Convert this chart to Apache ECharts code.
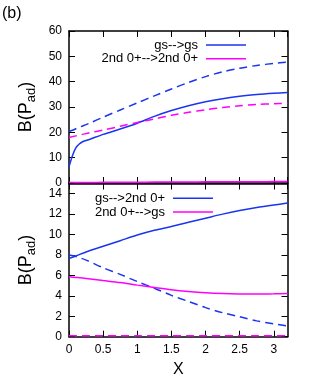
<!DOCTYPE html>
<html><head><meta charset="utf-8">
<script src="https://cdn.jsdelivr.net/npm/echarts@6/dist/echarts.min.js"></script>
<style>html,body{margin:0;padding:0;background:#fff}#c{width:313px;height:382px}</style>
</head><body><div id="c"></div>
<script>
// top panel data
var xTop = [0, 0.05, 0.1, 0.15, 0.2, 0.3, 0.5, 0.75, 1.0, 1.25, 1.5, 1.75, 2.0, 2.25, 2.5, 2.75, 3.0, 3.2];
var gsgsSolid = [6.4, 10.8, 13.9, 15.4, 16.3, 17.2, 19.2, 21.3, 23.6, 26.3, 28.6, 30.5, 32.1, 33.3, 34.2, 34.9, 35.4, 35.7];
var gsgsDashed = [20.3, 20.8, 21.4, 22.0, 22.5, 23.6, 26.0, 28.8, 31.6, 34.4, 37.1, 39.7, 42.0, 43.9, 45.3, 46.4, 47.2, 47.7];
var s2s2Dashed = [18.0, 18.3, 18.6, 18.9, 19.2, 19.8, 20.9, 22.4, 23.9, 25.3, 26.7, 27.9, 28.9, 29.8, 30.5, 31.0, 31.3, 31.5];
var s2s2Solid = [0.2, 0.2, 0.2, 0.2, 0.2, 0.2, 0.25, 0.3, 0.3, 0.35, 0.4, 0.4, 0.45, 0.5, 0.5, 0.5, 0.55, 0.55];
// bottom panel data
var xBot = [0, 0.1, 0.25, 0.5, 0.75, 1.0, 1.25, 1.5, 1.75, 2.0, 2.25, 2.5, 2.75, 3.0, 3.2];
var gs2Solid = [7.65, 7.9, 8.3, 8.85, 9.4, 9.95, 10.42, 10.78, 11.2, 11.6, 12.0, 12.35, 12.65, 12.9, 13.08];
var gs2Dashed = [8.0, 7.85, 7.5, 6.75, 6.1, 5.4, 4.75, 4.05, 3.45, 2.85, 2.35, 1.95, 1.55, 1.25, 1.05];
var s2gsSolid = [5.86, 5.8, 5.7, 5.5, 5.3, 5.05, 4.82, 4.6, 4.43, 4.3, 4.22, 4.18, 4.17, 4.2, 4.23];
var s2gsDashed = [0.1, 0.1, 0.1, 0.1, 0.1, 0.1, 0.1, 0.1, 0.1, 0.1, 0.1, 0.1, 0.1, 0.1, 0.1];
var xTicks = {min: 0, max: 3.2, interval: 0.5};
var topY = {min: 0, max: 60, interval: 10};
var botY = {min: 0, max: 15, interval: 2};

function pairs(xs, ys){ return xs.map(function(x,i){return [x, ys[i]];}); }
var BLUE = '#1a35f0', MAG = '#ff00ff';
var FONT = 'Liberation Sans';
var axisLine = {show: true, onZero: false, lineStyle: {color: '#000', width: 1.5}};
var tick = {show: true, inside: true, length: 6, lineStyle: {color: '#000', width: 1}};
function xa(grid, pos, labels){
  return {type: 'value', gridIndex: grid, position: pos, min: xTicks.min, max: xTicks.max, interval: xTicks.interval,
    axisLine: axisLine, axisTick: tick, splitLine: {show: false},
    axisLabel: {show: labels, showMaxLabel: false, color: '#000', fontFamily: FONT, fontSize: 12, margin: 7},
    name: labels ? 'X' : '', nameLocation: 'middle', nameGap: 25,
    nameTextStyle: {color: '#000', fontFamily: FONT, fontSize: 16}};
}
function ya(grid, pos, labels, r){
  return {type: 'value', gridIndex: grid, position: pos, min: r.min, max: r.max, interval: r.interval,
    axisLine: axisLine, axisTick: tick, splitLine: {show: false},
    axisLabel: {show: labels, showMaxLabel: r.max % r.interval === 0, color: '#000', fontFamily: FONT, fontSize: 12, margin: 7},
    name: labels ? 'B(P{s|ad})' : '', nameLocation: 'middle', nameGap: 27, nameRotate: 90,
    nameTextStyle: {color: '#000', fontFamily: FONT, fontSize: 18, rich: {s: {fontSize: 13, verticalAlign: 'bottom', padding: [10,0,0,0], fontFamily: FONT, color: '#000'}}}};
}
function line(name, xi, yi, xs, ys, color, dashed){
  return {name: name, type: 'line', xAxisIndex: xi, yAxisIndex: yi, data: pairs(xs, ys), symbol: 'none', smooth: 0.3,
    lineStyle: {color: color, width: 1.5, type: dashed ? [8,5] : 'solid'}, itemStyle: {color: color}, z: 5, animation: false};
}
var legendText = {fontFamily: FONT, fontSize: 13, color: '#000', lineHeight: 13, padding: [0,3,0,0]};
var chart = echarts.init(document.getElementById('c'), null, {renderer: 'canvas'});
chart.setOption({
  animation: false,
  grid: [
    {left: 69, right: 25.5, top: 31, height: 152},
    {left: 69, right: 25.5, top: 183.5, height: 153.2}
  ],
  title: {text: '(b)', left: 2, top: 6, padding: 0, textStyle: {fontFamily: FONT, fontSize: 16, fontWeight: 'normal', color: '#000'}},
  xAxis: [xa(0, 'bottom', false), xa(0, 'top', false), xa(1, 'bottom', true), xa(1, 'top', false)],
  yAxis: [ya(0, 'left', true, topY), ya(0, 'right', false, topY), ya(1, 'left', true, botY), ya(1, 'right', false, botY)],
  legend: [
    {data: ['gs-->gs', '2nd 0+-->2nd 0+'], orient: 'vertical', align: 'right', right: 67, top: 38.5, padding: 0, icon: 'rect',
     itemWidth: 40, itemHeight: 1.5, itemGap: 0.7, textStyle: legendText},
    {data: ['gs-->2nd 0+', '2nd 0+-->gs'], orient: 'vertical', align: 'right', right: 100, top: 191.8, padding: 0, icon: 'rect',
     itemWidth: 40, itemHeight: 1.5, itemGap: 0.7, textStyle: legendText}
  ],
  series: [
    line('gs-->gs', 0, 0, xTop, gsgsSolid, BLUE, false),
    line('gs-->gs dashed', 0, 0, xTop, gsgsDashed, BLUE, true),
    line('2nd 0+-->2nd 0+', 0, 0, xTop, s2s2Solid, MAG, false),
    line('2nd 0+-->2nd 0+ dashed', 0, 0, xTop, s2s2Dashed, MAG, true),
    line('gs-->2nd 0+', 2, 2, xBot, gs2Solid, BLUE, false),
    line('gs-->2nd 0+ dashed', 2, 2, xBot, gs2Dashed, BLUE, true),
    line('2nd 0+-->gs', 2, 2, xBot, s2gsSolid, MAG, false),
    line('2nd 0+-->gs dashed', 2, 2, xBot, s2gsDashed, MAG, true)
  ]
});
</script></body></html>
